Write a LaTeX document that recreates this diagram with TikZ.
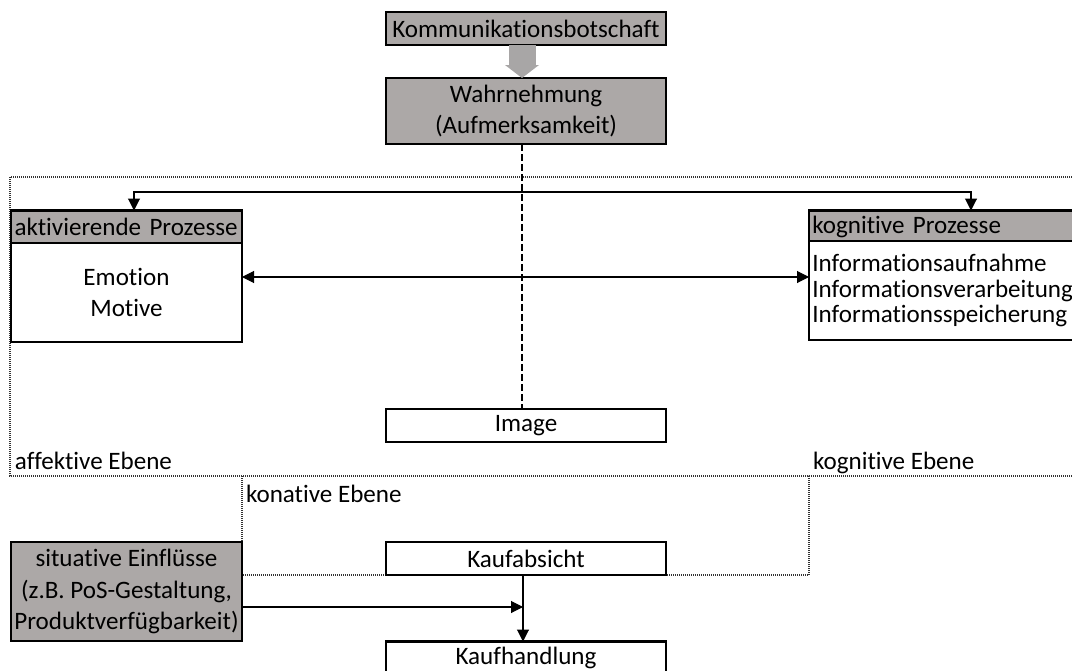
\documentclass[tikz,border=0pt]{standalone}
\usepackage{fontspec}
\setmainfont{Carlito}[Ligatures=NoCommon, Contextuals=NoAlternate]
\usetikzlibrary{arrows.meta}
\definecolor{boxgray}{RGB}{172,168,167}
\definecolor{blockgray}{RGB}{168,166,166}

\begin{document}
\begin{tikzpicture}[x=0.75pt,y=-0.75pt,
  every node/.style={font=\fontsize{18.8}{19}\selectfont, inner sep=0pt, outer sep=0pt},
  loose/.style={font=\fontsize{18.8}{23.3}\selectfont},
  box/.style={draw=black, line width=1.7pt, fill=white, align=center},
  graybox/.style={box, fill=boxgray},
  wide/.style={minimum width=210pt},
  narrow/.style={minimum width=173.25pt},
  lefttext/.style={align=left, text width=#1, inner xsep=2.5pt},
  row/.style={minimum height=24.75pt},
  tall/.style={minimum height=74.25pt},
  conn/.style={draw=black, line width=0.8pt},
  tip/.style={-{Triangle[length=9pt,width=9pt]}},
  bothtips/.style={{Triangle[length=9pt,width=9pt]}-{Triangle[length=9pt,width=9pt]}},
  level/.style={draw=black!80, line width=0.8pt, dash pattern=on 0.75pt off 0.75pt},
  label/.style={anchor=base west},
]
\clip (0,0) rectangle (1072,671);
\useasboundingbox (0,0) rectangle (1072,671);

% levels (dotted frames)
\draw[level] (1080,177) -- (10,177) -- (10,476) -- (1080,476);
\draw[level] (242,476) rectangle (809,575);

% top of the chain
\node[graybox, wide, minimum height=24.75pt] (komm) at (526,28.5) {Kommunikationsbotschaft};
\node[graybox, wide, minimum height=49.5pt, loose] (wahr) at (526,111)
  {Wahrnehmung\\(Aufmerksamkeit)};

% central column
\coordinate (colx) at (522,0);
\node[box, wide, row] (image) at (526,425.5) {Image};
\node[box, wide, row] (absicht) at (526,558.5) {Kaufabsicht};
\node[box, wide, row] (handlung) at (526,658) {Kaufhandlung};

\draw[conn, dashed, dash pattern=on 5pt off 2.5pt] (wahr.south -| colx) -- (image.north -| colx);

% process boxes
\node[graybox, narrow, row, lefttext=168pt] (akthead) at (126.5,227) {aktivierende Prozesse};
\node[box, narrow, tall, loose] (aktbody) at (126.5,292.5) {Emotion\\Motive};
\node[graybox, minimum width=198pt, row, lefttext=193pt] (koghead) at (941,227) {kognitive Prozesse};
\node[box, minimum width=198pt, tall, lefttext=193pt] (kogbody) at (941,290.5)
  {Informationsaufnahme\\Informationsverarbeitung\\Informationsspeicherung};

% situational influences
\node[graybox, narrow, minimum height=74.25pt, loose] (situ) at (126.5,591.5)
  {situative Einflüsse\\(z.B. PoS-Gestaltung,\\Produktverfügbarkeit)};

% level labels
\node[label] (aff) at (15,469) {affektive Ebene};
\node[label] (kog) at (813,469) {kognitive Ebene};
\node[label] (kon) at (246,502) {konative Ebene};

% block arrow from message to perception
\draw[blockgray, line width=20.25pt,
  -{Triangle[length=9.75pt,width=25.5pt,line width=0pt]}]
  (komm.south -| colx) -- (wahr.north -| colx);

% branches to both process boxes
\coordinate (L) at (134,192);
\coordinate (R) at (971,192);
\draw[conn, bothtips] (akthead.north -| L) -- (L) -- (R) -- (koghead.north -| R);

\coordinate (M) at (526,277);
\draw[conn, bothtips] (aktbody.east |- M) -- (kogbody.west |- M);

% purchase chain
\coordinate (joinx) at (523,0);
\coordinate (S) at (0,607);
\draw[conn, tip] (situ.east |- S) -- (joinx |- S);
\draw[conn, tip] (absicht.south -| joinx) -- (handlung.north -| joinx);
\end{tikzpicture}
\end{document}
